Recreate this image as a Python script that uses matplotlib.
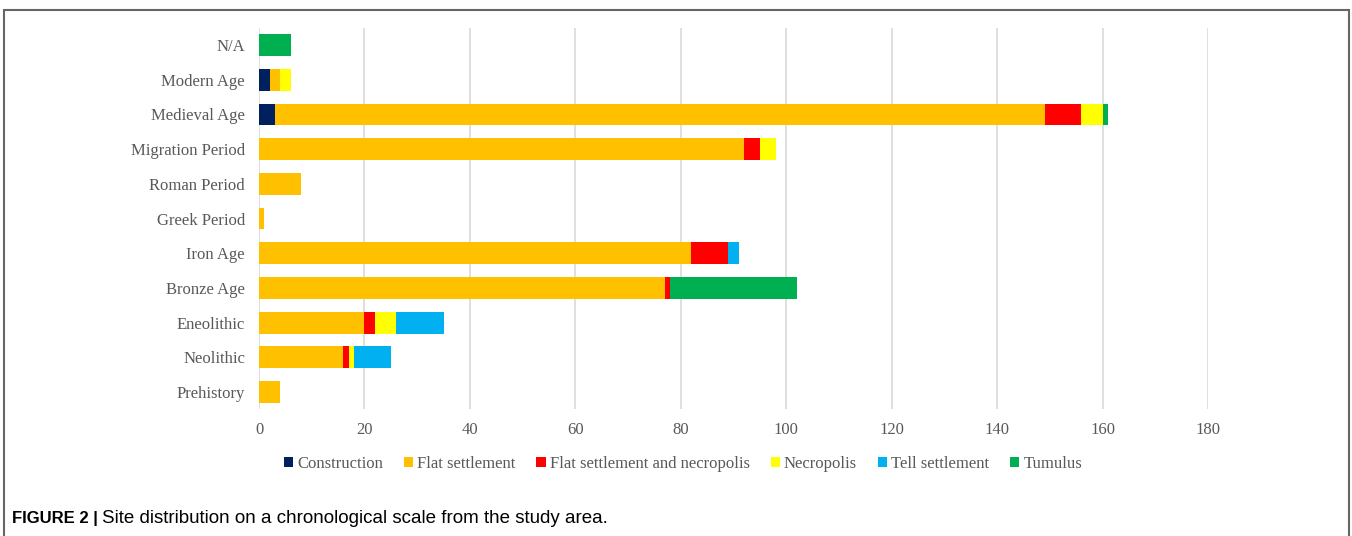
import numpy as np
import matplotlib.pyplot as plt
from matplotlib.patches import Rectangle

# categories, bottom to top
periods = ["Prehistory", "Neolithic", "Eneolithic", "Bronze Age", "Iron Age",
           "Greek Period", "Roman Period", "Migration Period", "Medieval Age",
           "Modern Age", "N/A"]

site_types = ["Construction", "Flat settlement", "Flat settlement and necropolis",
              "Necropolis", "Tell settlement", "Tumulus"]

construction = [0, 0, 0, 0, 0, 0, 0, 0, 3, 2, 0]
flat_settlement = [4, 16, 20, 77, 82, 1, 8, 92, 146, 2, 0]
flat_and_necropolis = [0, 1, 2, 1, 7, 0, 0, 3, 7, 0, 0]
necropolis = [0, 1, 4, 0, 0, 0, 0, 3, 4, 2, 0]
tell_settlement = [0, 7, 9, 0, 2, 0, 0, 0, 0, 0, 0]
tumulus = [0, 0, 0, 24, 0, 0, 0, 0, 1, 0, 6]

series = [construction, flat_settlement, flat_and_necropolis,
          necropolis, tell_settlement, tumulus]
colors = ["#002060", "#FFC000", "#FF0000", "#FFFF00", "#00B0F0", "#00B050"]

plt.rcParams['font.family'] = ['Liberation Serif', 'DejaVu Serif']

W, H = 1352, 536
fig = plt.figure(figsize=(W / 100, H / 100), dpi=100)

# axes placed in pixel coordinates of the reference
left, right, top, bottom = 259, 1208, 27.7, 409.4
ax = fig.add_axes([left / W, 1 - bottom / H, (right - left) / W, (bottom - top) / H])

y = np.arange(len(periods))
base = np.zeros(len(periods))
for vals, name, col in zip(series, site_types, colors):
    vals = np.array(vals, dtype=float)
    ax.barh(y, vals, left=base, height=0.63, color=col, label=name, zorder=3)
    base += vals

ax.set_xlim(0, 180)
ax.set_ylim(-0.5, len(periods) - 0.5)
ax.set_xticks(np.arange(0, 181, 20))
ax.set_yticks(y)
ax.set_yticklabels(periods)
ax.grid(axis='x', color='#d9d9d9', linewidth=1.2, zorder=0)
for s in ax.spines.values():
    s.set_visible(False)
ax.tick_params(length=0, labelsize=12, colors='#595959')
ax.tick_params(axis='y', pad=10)
ax.tick_params(axis='x', pad=9)

ax.legend(loc='center', bbox_to_anchor=(0.5 + (683 - (left + right) / 2) / (right - left), -0.142),
          ncol=6, frameon=False, fontsize=12, labelcolor='#595959',
          handlelength=0.55, handleheight=0.55, handletextpad=0.25, columnspacing=1.25)

# outer frame and caption
fig.patches.append(Rectangle((4 / W, -0.1), (1349 - 4) / W, 1 - 10 / H + 0.1,
                             transform=fig.transFigure, fill=False,
                             edgecolor='#666666', linewidth=1.5))
cap_y = 1 - 523 / H
bold = fig.text(12 / W, cap_y, "FIGURE 2 |", family='Liberation Sans', fontweight='bold',
                fontsize=12, va='baseline', ha='left')
renderer = fig.canvas.get_renderer()
bb = bold.get_window_extent(renderer)
fig.text((bb.x1 + 4) / W, cap_y, "Site distribution on a chronological scale from the study area.",
         family='Liberation Sans', fontsize=13.5, va='baseline', ha='left')

fig.savefig("out.png", dpi=100)
